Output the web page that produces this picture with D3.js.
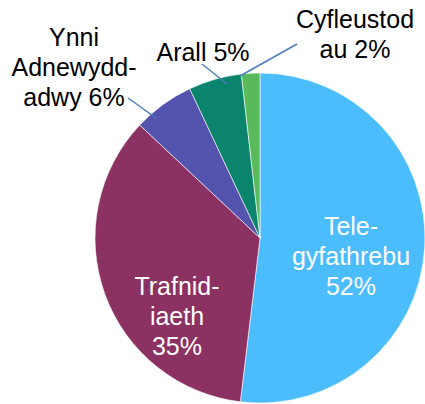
<!DOCTYPE html>
<html lang="cy">
<head>
    <meta charset="UTF-8">
    <title>Pie chart</title>
    <style>
        body {
            margin: 0;
            padding: 0;
            overflow: hidden;
            background: #ffffff;
            font-family: "Liberation Sans", Arial, sans-serif;
        }

        .slice {
            stroke: #ffffff;
            stroke-width: 0.6px;
        }

        .leader {
            stroke: #4a7ebb;
            stroke-width: 1.5px;
            fill: none;
        }

        .label {
            font-size: 25px;
            text-anchor: middle;
        }
    </style>
    <script src="https://cdn.jsdelivr.net/npm/d3@7"></script>
</head>
<body>
    <div id="chart"></div>

    <script>
        // Sectors (clockwise from 12 o'clock) and their shares in %
        const categories = ['Telegyfathrebu', 'Trafnidiaeth', 'Ynni Adnewyddadwy', 'Arall', 'Cyfleustodau'];
        const shares = [51.9, 35.1, 6.0, 5.2, 1.8];
        const colours = ['#4bbcfc', '#8b3262', '#5453ae', '#0b846d', '#58ba5a'];

        // Data label lines as they appear on the chart
        const labelLines = [
            ['Tele-', 'gyfathrebu', '52%'],
            ['Trafnid-', 'iaeth', '35%'],
            ['Ynni', 'Adnewydd-', 'adwy 6%'],
            ['Arall 5%'],
            ['Cyfleustod', 'au 2%']
        ];

        const width = 425, height = 404;
        const cx = 260, cy = 238, radius = 165;

        const svg = d3.select('#chart')
            .append('svg')
            .attr('width', width)
            .attr('height', height);

        const data = categories.map((c, i) => ({ name: c, value: shares[i], colour: colours[i], lines: labelLines[i] }));

        const pie = d3.pie()
            .sort(null)
            .value(d => d.value);

        const arc = d3.arc()
            .innerRadius(0)
            .outerRadius(radius);

        const g = svg.append('g')
            .attr('transform', `translate(${cx},${cy})`);

        g.selectAll('.slice')
            .data(pie(data))
            .enter().append('path')
            .attr('class', 'slice')
            .attr('d', arc)
            .attr('fill', d => d.data.colour);

        // label placement (first baseline, centre x) and leader lines, in page coords
        const labelPos = [
            { x: 351, y: 235, fill: '#ffffff' },
            { x: 177, y: 295, fill: '#ffffff' },
            { x: 74, y: 46, fill: '#000000' },
            { x: 203, y: 61, fill: '#000000' },
            { x: 355, y: 28, fill: '#000000' }
        ];
        const leaders = [
            null,
            null,
            [[128, 98], [156, 118]],
            [[202, 64], [227, 84]],
            [[297, 44], [240, 76]]
        ];

        svg.selectAll('.leader')
            .data(leaders.filter(l => l))
            .enter().append('line')
            .attr('class', 'leader')
            .attr('x1', d => d[0][0])
            .attr('y1', d => d[0][1])
            .attr('x2', d => d[1][0])
            .attr('y2', d => d[1][1]);

        const labels = svg.selectAll('.label')
            .data(data)
            .enter().append('text')
            .attr('class', 'label')
            .attr('fill', (d, i) => labelPos[i].fill);

        labels.each(function(d, i) {
            const t = d3.select(this);
            d.lines.forEach((line, j) => {
                t.append('tspan')
                    .attr('x', labelPos[i].x)
                    .attr('y', labelPos[i].y + j * 30)
                    .text(line);
            });
        });
    </script>
</body>
</html>
